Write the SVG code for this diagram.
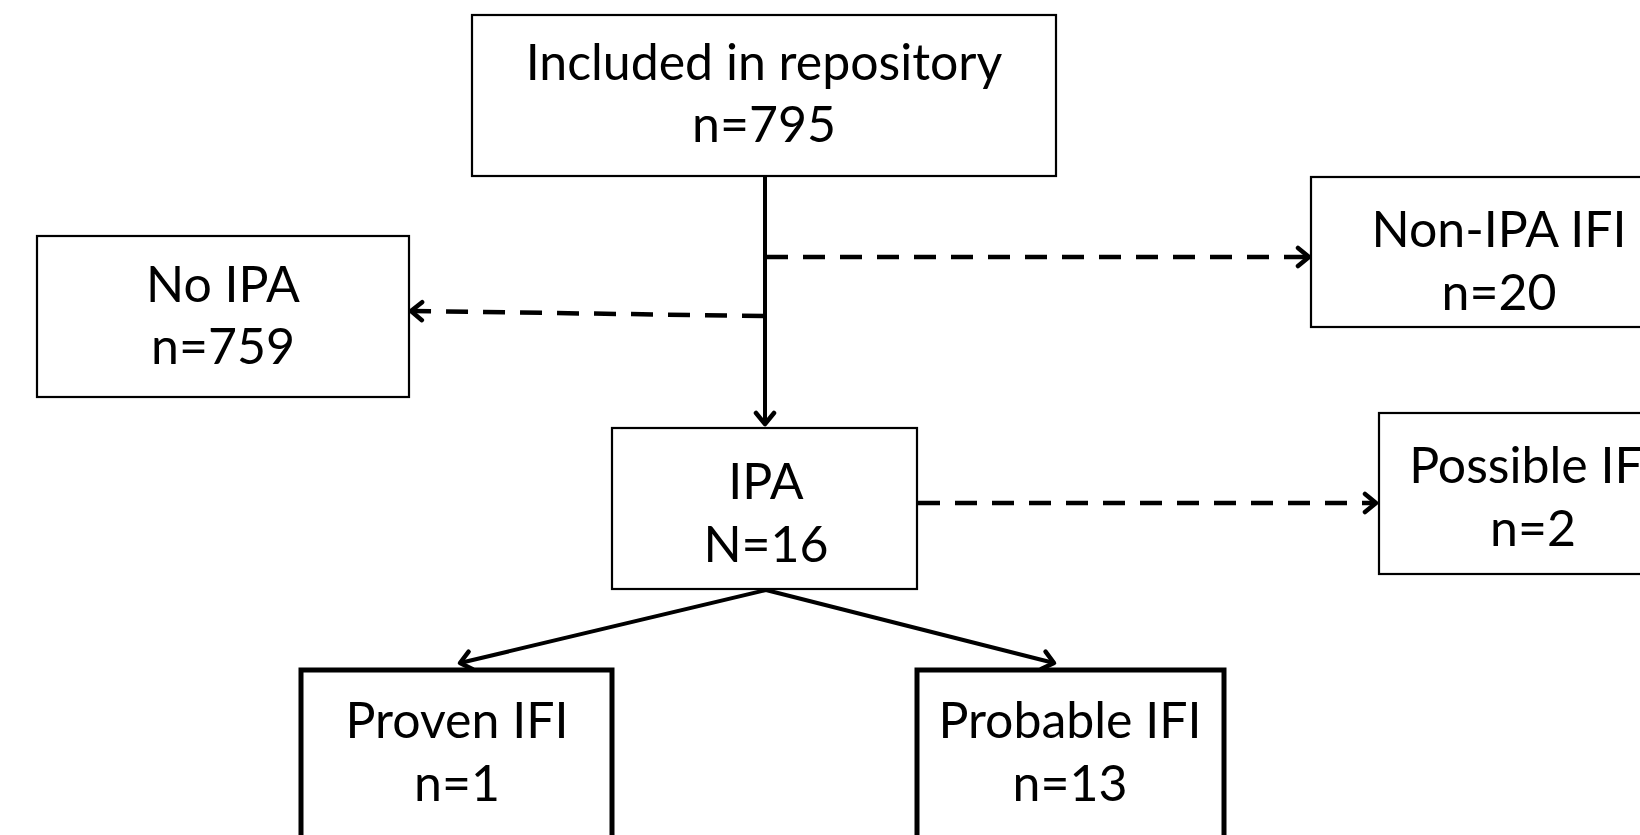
<svg xmlns="http://www.w3.org/2000/svg" width="1640" height="835" viewBox="0 0 1640 835">
<style>
.box{fill:#fff;stroke:#000;stroke-width:2.2}
.thick{fill:#fff;stroke:#000;stroke-width:5}
.t{font-family:Lato,"Open Sans","Liberation Sans",sans-serif;font-size:50px;fill:#000;text-anchor:middle}
.solid{stroke:#000;stroke-width:4;fill:none}
.dash{stroke:#000;stroke-width:4.5;fill:none;stroke-dasharray:22 15}
</style>
<defs>
<marker id="arr" markerWidth="20" markerHeight="24" refX="15" refY="12" orient="auto" markerUnits="userSpaceOnUse">
<path d="M4,3 L15,12 L4,21" fill="none" stroke="#000" stroke-width="4.5" stroke-linecap="round" stroke-linejoin="round"/>
</marker>
</defs>
<rect width="1640" height="835" fill="#fff"/>
<g id="connectors">
<line class="solid" x1="765" y1="176" x2="765" y2="424" marker-end="url(#arr)"/>
<line class="dash" x1="766" y1="257" x2="1309" y2="257" marker-end="url(#arr)"/>
<line class="dash" x1="764" y1="316" x2="411" y2="311" marker-end="url(#arr)"/>
<line class="dash" x1="918" y1="503" x2="1376" y2="503" marker-end="url(#arr)"/>
<line class="solid" x1="766" y1="590" x2="460" y2="663" marker-end="url(#arr)"/>
<line class="solid" x1="766" y1="590" x2="1054" y2="663" marker-end="url(#arr)"/>
</g>
<g id="n-repo">
<rect class="box" x="472" y="15" width="584" height="161"/>
<text class="t" x="764" y="80">Included in repository</text>
<text class="t" x="764" y="142">n=795</text>
</g>
<g id="n-noipa">
<rect class="box" x="37" y="236" width="372" height="161"/>
<text class="t" x="223" y="302">No IPA</text>
<text class="t" x="223" y="364">n=759</text>
</g>
<g id="n-nonipa">
<rect class="box" x="1311" y="177" width="376" height="150"/>
<text class="t" x="1499" y="247">Non-IPA IFI</text>
<text class="t" x="1499" y="310">n=20</text>
</g>
<g id="n-ipa">
<rect class="box" x="612" y="428" width="305" height="161"/>
<text class="t" x="766" y="499">IPA</text>
<text class="t" x="766" y="562">N=16</text>
</g>
<g id="n-possible">
<rect class="box" x="1379" y="413" width="308" height="161"/>
<text class="t" x="1533" y="483">Possible IFI</text>
<text class="t" x="1533" y="546">n=2</text>
</g>
<g id="n-proven">
<rect class="thick" x="301" y="670" width="311" height="180"/>
<text class="t" x="457" y="738">Proven IFI</text>
<text class="t" x="457" y="801">n=1</text>
</g>
<g id="n-probable">
<rect class="thick" x="917" y="670" width="307" height="180"/>
<text class="t" x="1070" y="738">Probable IFI</text>
<text class="t" x="1070" y="801">n=13</text>
</g>
</svg>
